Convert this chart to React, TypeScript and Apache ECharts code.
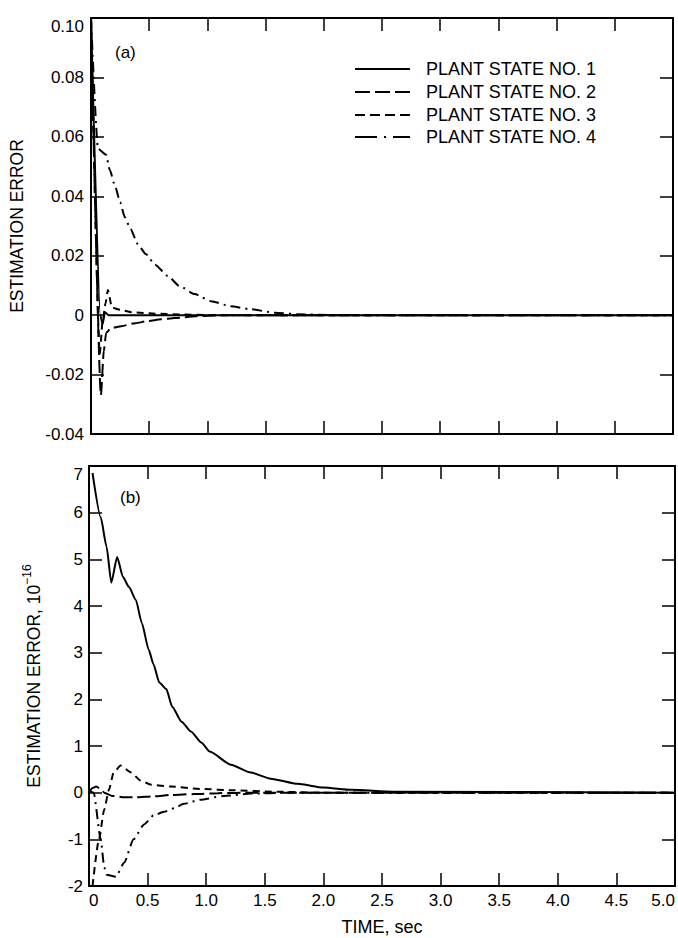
import React, { useEffect, useRef } from "react";
import * as echarts from "echarts";

const FONT = '"Liberation Sans", Arial, Helvetica, sans-serif';

// ---------- Panel (a) data: time (sec) and estimation error ----------
const tA1 = [0, 0.08, 0.1, 0.12, 0.15, 5.0];
const vA1 = [0.1, 0.0, -0.003, 0.001, 0.0, 0.0];

const tA2 = [0, 0.085, 0.11, 0.13, 0.17, 0.26, 0.38, 0.49, 0.6, 0.72, 0.9, 1.1, 5.0];
const vA2 = [0.1, -0.027, -0.012, -0.006, -0.0044, -0.0037, -0.0027, -0.002, -0.0014, -0.001, -0.0004, 0, 0];

const tA3 = [0, 0.075, 0.1, 0.125, 0.145, 0.18, 0.25, 0.35, 0.55, 0.8, 1.0, 5.0];
const vA3 = [0.1, -0.013, -0.002, 0.004, 0.0085, 0.0025, 0.0018, 0.001, 0.0005, 0.0002, 0, 0];

const tA4 = [0, 0.06, 0.13, 0.16, 0.21, 0.25, 0.29, 0.34, 0.4, 0.47, 0.55, 0.66, 0.76, 0.89, 1.03, 1.2, 1.37, 1.58, 1.78, 2.1, 5.0];
const vA4 = [0.1, 0.056, 0.054, 0.049, 0.043, 0.038, 0.033, 0.029, 0.024, 0.0206, 0.017, 0.0132, 0.0098, 0.0071, 0.0047, 0.003, 0.002, 0.0008, 0.0003, 0, 0];

// ---------- Panel (b) data: time (sec) and estimation error x 1e-16 ----------
const tB1 = [0.03, 0.1, 0.15, 0.19, 0.24, 0.29, 0.34, 0.4, 0.45, 0.51, 0.55, 0.6, 0.66, 0.71, 0.79, 0.87, 0.96, 1.03, 1.21, 1.38, 1.55, 1.78, 2.0, 2.24, 2.6, 5.0];
const vB1 = [6.85, 5.9, 5.27, 4.5, 5.05, 4.62, 4.41, 4.13, 3.64, 3.06, 2.75, 2.36, 2.22, 1.84, 1.52, 1.31, 1.07, 0.88, 0.6, 0.43, 0.3, 0.19, 0.11, 0.06, 0.02, 0];

const tB2 = [0, 0.03, 0.06, 0.1, 0.13, 0.2, 0.3, 0.4, 0.55, 0.7, 0.9, 1.1, 1.4, 5.0];
const vB2 = [0, 0.1, 0.13, 0.08, 0, -0.07, -0.1, -0.1, -0.08, -0.05, -0.03, -0.01, 0, 0];

const tB3 = [0.03, 0.085, 0.13, 0.17, 0.21, 0.27, 0.36, 0.44, 0.53, 0.7, 0.95, 1.24, 1.6, 2.0, 5.0];
const vB3 = [-2.0, -1.0, -0.36, 0.06, 0.43, 0.58, 0.43, 0.26, 0.17, 0.13, 0.08, 0.05, 0.02, 0, 0];

const tB4 = [0, 0.04, 0.1, 0.13, 0.15, 0.23, 0.3, 0.38, 0.47, 0.55, 0.64, 0.73, 0.81, 0.95, 1.15, 1.38, 1.7, 5.0];
const vB4 = [0.05, 0, -1.0, -1.6, -1.76, -1.8, -1.5, -1.0, -0.68, -0.49, -0.41, -0.33, -0.24, -0.15, -0.07, -0.02, 0, 0];

const seriesNames = ["PLANT STATE NO. 1", "PLANT STATE NO. 2", "PLANT STATE NO. 3", "PLANT STATE NO. 4"];

const pairs = (t: number[], v: number[]) => t.map((x, i) => [x, v[i]]);

const curveDash: any[] = ["solid", [13, 5], [7, 5], [10, 5, 2, 5]];
const legendDash: any[] = [null, [15, 5], [10, 5], [22, 7, 2, 7]];

export default function App() {
  const ref = useRef<HTMLDivElement>(null);

  useEffect(() => {
    if (!ref.current) return;
    const chart = echarts.init(ref.current, null, { renderer: "svg" });

    const axisLine = { show: true, onZero: false, lineStyle: { color: "#000", width: 2 } };
    const axisTick = { show: true, inside: true, length: 13, lineStyle: { color: "#000", width: 1.5 } };
    const labelStyle = { color: "#000", fontFamily: FONT, fontSize: 17 };

    const xBase = (gridIndex: number, position: string, showLabel: boolean) => ({
      type: "value",
      gridIndex,
      position,
      min: 0,
      max: 5,
      interval: 0.5,
      axisLine,
      axisTick,
      splitLine: { show: false },
      axisLabel: {
        show: showLabel,
        ...labelStyle,
        margin: 6,
        alignMinLabel: "left",
        alignMaxLabel: "right",
        formatter: (v: number) => (Math.abs(v) < 1e-9 ? "0" : v.toFixed(1)),
      },
    });

    const yBase = (gridIndex: number, position: string, min: number, max: number, interval: number, showLabel: boolean, fmt: (v: number) => string, margin: number) => ({
      type: "value",
      gridIndex,
      position,
      min,
      max,
      interval,
      axisLine,
      axisTick,
      splitLine: { show: false },
      axisLabel: {
        show: showLabel,
        ...labelStyle,
        margin,
        verticalAlignMaxLabel: "top",
        formatter: fmt,
      },
    });

    const fmtA = (v: number) => (Math.abs(v) < 1e-9 ? "0" : v.toFixed(2));
    const fmtB = (v: number) => (Math.abs(v) < 1e-9 ? "0" : String(Math.round(v)));

    const xAxis: any[] = [
      { ...xBase(0, "bottom", false) },
      { ...xBase(0, "top", false) },
      {
        ...xBase(1, "bottom", true),
        name: "TIME, sec",
        nameLocation: "middle",
        nameGap: 32,
        nameTextStyle: { color: "#000", fontFamily: FONT, fontSize: 18 },
      },
      { ...xBase(1, "top", false) },
    ];

    const yAxis: any[] = [
      {
        ...yBase(0, "left", -0.04, 0.1, 0.02, true, fmtA, 7),
        name: "ESTIMATION ERROR",
        nameLocation: "middle",
        nameGap: 65,
        nameTextStyle: { color: "#000", fontFamily: FONT, fontSize: 17.5 },
      },
      { ...yBase(0, "right", -0.04, 0.1, 0.02, false, fmtA, 7) },
      {
        ...yBase(1, "left", -2, 7, 1, true, fmtB, 6),
        name: "{a|ESTIMATION ERROR, 10}{b|−16}",
        nameLocation: "middle",
        nameGap: 46,
        nameTextStyle: {
          color: "#000",
          fontFamily: FONT,
          fontSize: 17.5,
          rich: {
            a: { color: "#000", fontFamily: FONT, fontSize: 17.5, lineHeight: 22, verticalAlign: "bottom" },
            b: { color: "#000", fontFamily: FONT, fontSize: 12, lineHeight: 22, verticalAlign: "top" },
          },
        },
      },
      { ...yBase(1, "right", -2, 7, 1, false, fmtB, 6) },
    ];

    const dataA = [pairs(tA1, vA1), pairs(tA2, vA2), pairs(tA3, vA3), pairs(tA4, vA4)];
    const dataB = [pairs(tB1, vB1), pairs(tB2, vB2), pairs(tB3, vB3), pairs(tB4, vB4)];

    const mk = (data: number[][], i: number, axisIdx: number) => ({
      type: "line",
      name: seriesNames[i],
      xAxisIndex: axisIdx,
      yAxisIndex: axisIdx,
      data,
      showSymbol: false,
      symbol: "none",
      smooth: 0.2,
      smoothMonotone: "x",
      clip: true,
      lineStyle: { color: "#000", width: 2, type: curveDash[i] },
      z: 3,
    });

    const series: any[] = [
      ...dataA.map((d, i) => mk(d, i, 0)),
      ...dataB.map((d, i) => mk(d, i, 2)),
    ];

    const legendRows = [69, 92, 115, 137];
    const graphic: any[] = [];
    legendRows.forEach((y, i) => {
      graphic.push({
        type: "line",
        shape: { x1: 355, y1: y, x2: 410, y2: y },
        style: { stroke: "#000", lineWidth: 2, lineDash: legendDash[i] },
      });
      graphic.push({
        type: "text",
        x: 426,
        y,
        style: { text: seriesNames[i], fill: "#000", fontFamily: FONT, fontSize: 18, verticalAlign: "middle", align: "left" },
      });
    });
    graphic.push({
      type: "text",
      x: 115,
      y: 52,
      style: { text: "(a)", fill: "#000", fontFamily: FONT, fontSize: 17, verticalAlign: "middle", align: "left" },
    });
    graphic.push({
      type: "text",
      x: 120,
      y: 497,
      style: { text: "(b)", fill: "#000", fontFamily: FONT, fontSize: 17, verticalAlign: "middle", align: "left" },
    });

    chart.setOption({
      animation: false,
      backgroundColor: "#fff",
      textStyle: { fontFamily: FONT },
      grid: [
        { left: 88, top: 18, width: 585, height: 416 },
        { left: 89, top: 466, width: 586, height: 420 },
      ],
      xAxis,
      yAxis,
      series,
      graphic,
    });

    return () => chart.dispose();
  }, []);

  return (
    <div
      ref={ref}
      style={{ position: "fixed", left: 0, top: 0, width: 678, height: 938, background: "#fff" }}
    />
  );
}
